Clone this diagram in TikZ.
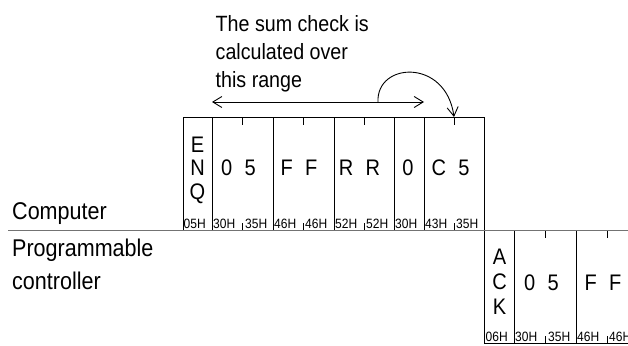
\documentclass[tikz,border=0pt]{standalone}
\usepackage{fontspec}
\setmainfont{Liberation Sans}[FakeStretch=0.89]
\usetikzlibrary{arrows.meta}

\newcommand{\chpair}[2]{#1\hspace{0.55em}#2}

\tikzset{
  every node/.style={font=\fontsize{22}{28}\selectfont, text=black},
  frame/.style={
    draw=black, line width=0.9pt, inner sep=0pt, outer sep=0pt,
    minimum height=113pt
  },
  glyph/.style={align=center, inner sep=0pt, font=\fontsize{22.5}{23}\selectfont},
  hexlbl/.style={anchor=base west, inner sep=0pt, font=\fontsize{13.5}{13.5}\selectfont},
  sidelbl/.style={anchor=base west, inner sep=0pt, align=left, font=\fontsize{24.2}{33}\selectfont},
  tick/.style={line width=0.9pt},
  sepline/.style={line width=0.9pt, draw=black!55},
  arr/.style={{Straight Barb[length=9pt,width=11pt]}-{Straight Barb[length=9pt,width=11pt]}, line width=0.9pt},
  bendarr/.style={-{Straight Barb[length=9pt,width=11pt]}, line width=0.9pt},
}

\begin{document}
\begin{tikzpicture}[x=1pt, y=-1pt]
    \clip (0,0) rectangle (628,345);

    % Note over the range (base is the last line)
    \node[sidelbl, font=\fontsize{22.1}{28}\selectfont] (note) at (215.5,87.5)
      {The sum check is\\calculated over\\this range};

    % Frames sent by the computer
    \node[frame, minimum width=29pt] (fenq) at (197.5,173.5) {};
    \node[frame, minimum width=61pt] (f05) at (242.5,173.5) {};
    \node[frame, minimum width=61pt] (fff) at (303.5,173.5) {};
    \node[frame, minimum width=60pt] (frr) at (364,173.5) {};
    \node[frame, minimum width=30pt] (fzero) at (409,173.5) {};
    \node[frame, minimum width=60pt] (fc5) at (454,173.5) {};

    \node[glyph, font=\fontsize{22.5}{23.5}\selectfont] (tenq) at (197.5,170) {E\\N\\Q};
    \node[glyph] (t05) at (238.5,168) {\chpair{0}{5}};
    \node[glyph] (tff) at (299,168) {\chpair{F}{F}};
    \node[glyph] (trr) at (359.5,168) {\chpair{R}{R}};
    \node[glyph] (tzero) at (408,168) {0};
    \node[glyph] (tc5) at (450.5,168) {\chpair{C}{5}};

    \foreach \x/\t [count=\i] in {183.5/05H, 213/30H, 245/35H, 274/46H, 305/46H,
        335/52H, 366/52H, 395/30H, 425/43H, 456/35H}
      \node[hexlbl] (hxa\i) at (\x,228) {\t};

    % Frames sent by the programmable controller
    \node[frame, minimum width=30pt] (back) at (499.5,286.5) {};
    \node[frame, minimum width=62pt] (b05) at (545.5,286.5) {};
    \node[frame, minimum width=61pt] (bff) at (607,286.5) {};

    \node[glyph, font=\fontsize{22.5}{25}\selectfont] (tack) at (499.5,282) {A\\C\\K};
    \node[glyph] (tb05) at (541.5,283) {\chpair{0}{5}};
    \node[glyph] (tbff) at (603,283) {\chpair{F}{F}};

    \foreach \x/\t [count=\i] in {485.5/06H, 515/30H, 548/35H, 577/46H, 609/46H}
      \node[hexlbl] (hxb\i) at (\x,341) {\t};

    % Ticks in the middle of each two-character frame
    \foreach \f in {f05, fff, frr, fc5, b05, bff} {
      \draw[tick] (\f.north) -- ++(0,8);
      \draw[tick] (\f.south) -- ++(0,-7);
    }

    % Line between the two stations
    \coordinate (sepL) at (8,230);
    \coordinate (sepR) at (628,230);
    \draw[sepline] (sepL) -- (sepR);

    \node[sidelbl] (comp) at (12,219) {Computer};
    \node[sidelbl] (plc) at (12,289) {Programmable\\controller};

    % Range of the sum check
    \coordinate (rngL) at (fenq.north east |- 0,102);
    \coordinate (rngR) at (fzero.north east |- 0,102);
    \coordinate (rngS) at (378,102);
    \draw[arr] (rngL) -- (rngR);
    \draw[bendarr] (rngS) .. controls (376,62) and (446,58) .. (fc5.north);

\end{tikzpicture}
\end{document}
